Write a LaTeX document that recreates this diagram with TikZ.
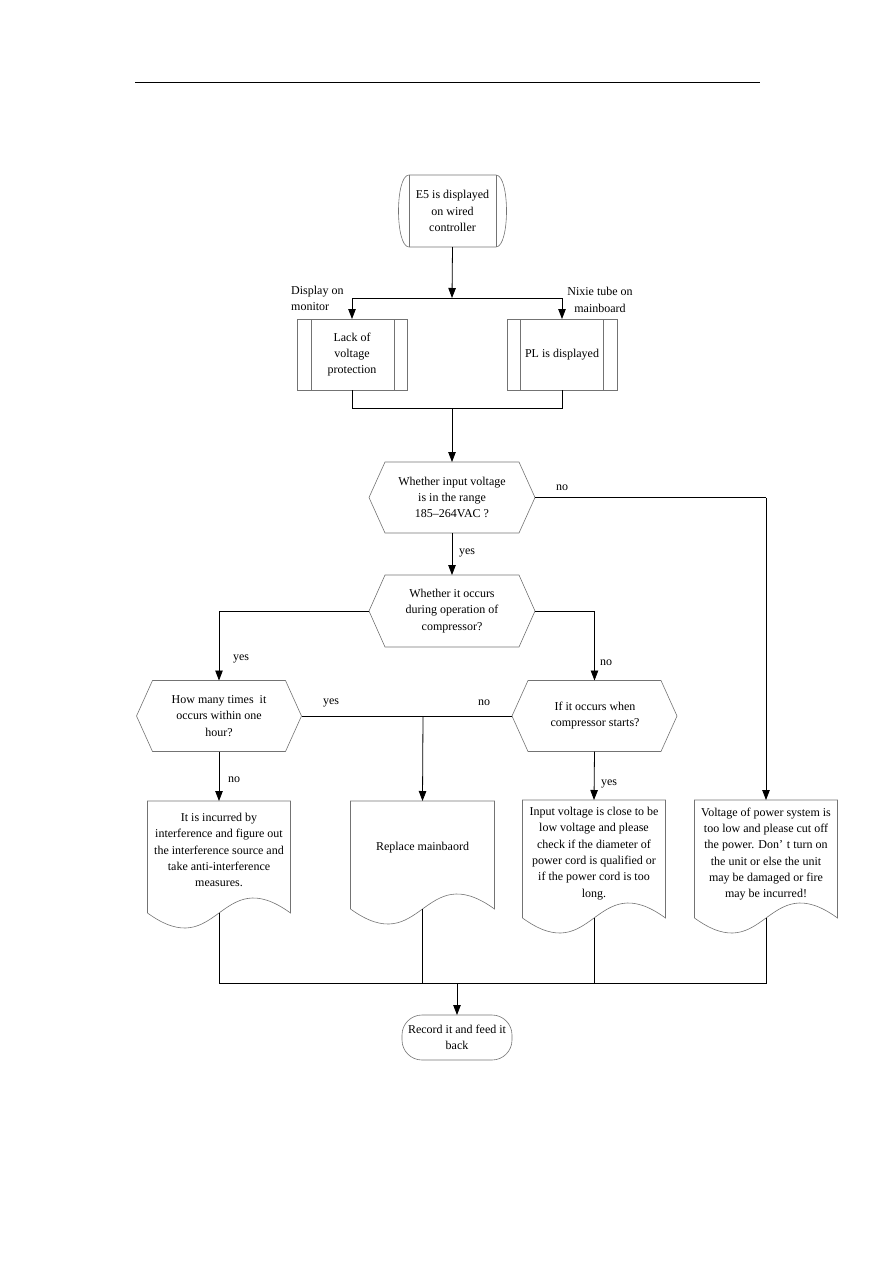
\documentclass[tikz,border=0pt]{standalone}
\usepackage{fontspec}
\setmainfont{Liberation Serif}
\usetikzlibrary{arrows.meta,calc}
\begin{document}
\begin{tikzpicture}[x=1pt,y=-1pt,
  txt/.style={font=\fontsize{12}{16.3}\selectfont, align=center, inner sep=0pt, text=black},
  lbl/.style={font=\fontsize{12}{16.3}\selectfont, inner sep=0pt, text=black},
  box/.style={draw=none, inner sep=0pt, outer sep=0pt},
  shp/.style={draw=black!55, line width=0.6pt},
  con/.style={draw=black, line width=0.8pt},
  arr/.style={con, -{Triangle[length=10pt,width=7.5pt]}}]
\useasboundingbox (0,0) rectangle (893,1263);
\draw[line width=0.8pt] (135,82) -- (760,82);

% start node
\node[box, minimum width=109pt, minimum height=72pt] (start) at (452.5,211) {};
\draw[shp] ([xshift=11pt]start.north west) -- ([xshift=-11pt]start.north east)
  .. controls ([xshift=3pt]start.north east) and ([xshift=3pt]start.south east) .. ([xshift=-11pt]start.south east)
  -- ([xshift=11pt]start.south west)
  .. controls ([xshift=-3pt]start.south west) and ([xshift=-3pt]start.north west) .. ([xshift=11pt]start.north west);
\draw[shp] ([xshift=11pt]start.north west) -- ([xshift=11pt]start.south west);
\draw[shp] ([xshift=-11pt]start.north east) -- ([xshift=-11pt]start.south east);
\node[txt] (startt) at (452.5,211) {E5 is displayed\\on wired\\controller};

% process boxes
\node[box, shp, minimum width=110pt, minimum height=71pt] (p1) at (352,354.5) {};
\draw[shp] ([xshift=14pt]p1.north west) -- ([xshift=14pt]p1.south west);
\draw[shp] ([xshift=-13pt]p1.north east) -- ([xshift=-13pt]p1.south east);
\node[txt] (p1t) at (352,354.5) {Lack of\\voltage\\protection};
\node[box, shp, minimum width=110pt, minimum height=71pt] (p2) at (562,354.5) {};
\draw[shp] ([xshift=13pt]p2.north west) -- ([xshift=13pt]p2.south west);
\draw[shp] ([xshift=-14pt]p2.north east) -- ([xshift=-14pt]p2.south east);
\node[txt] (p2t) at (562,354.5) {PL is displayed};

\node[lbl, align=left, anchor=north west] (lab1) at (291,286) {Display on\\monitor};
\node[lbl, align=center] (lab2) at (600,300) {Nixie tube on\\mainboard};

% decisions
\newcommand{\hexdraw}[1]{%
  \draw[shp] (#1.west) -- ([xshift=16pt]#1.north west) -- ([xshift=-16pt]#1.north east)
   -- (#1.east) -- ([xshift=-16pt]#1.south east) -- ([xshift=16pt]#1.south west) -- cycle;}
\node[box, minimum width=166pt, minimum height=71pt] (d1) at (452,497.5) {};
\hexdraw{d1}
\node[txt] (d1t) at (452,497.5) {Whether input voltage\\is in the range\\185--264VAC ?};
\node[box, minimum width=166pt, minimum height=72pt] (d2) at (452,611) {};
\hexdraw{d2}
\node[txt] (d2t) at (452,611) {Whether it occurs\\during operation of\\compressor?};
\node[box, minimum width=165pt, minimum height=71pt] (d3) at (219,716) {};
\hexdraw{d3}
\node[txt] (d3t) at (219,716) {How many times~ it\\occurs within one\\hour?};
\node[box, minimum width=165pt, minimum height=71pt] (d4) at (594.5,716) {};
\hexdraw{d4}
\node[txt] (d4t) at (595,715.5) {If it occurs when\\compressor starts?};

% documents
\newcommand{\docdraw}[1]{%
  \draw[shp] (#1.south west) -- (#1.north west) -- (#1.north east) -- (#1.south east)
   .. controls ([yshift=52pt]#1.south) and ([yshift=-52pt]#1.south) .. (#1.south west);}
\node[box, minimum width=143pt, minimum height=112pt] (doc1) at (219,857) {};
\docdraw{doc1}
\node[txt] (doc1t) at (219,850) {It is incurred by\\interference and figure out\\the interference source and\\take anti-interference\\measures.};
\node[box, minimum width=144pt, minimum height=108pt] (doc2) at (422.5,855) {};
\docdraw{doc2}
\node[txt] (doc2t) at (422.5,848) {Replace mainbaord};
\node[box, minimum width=143pt, minimum height=118pt] (doc3) at (594,859) {};
\docdraw{doc3}
\node[txt] (doc3t) at (594,853.5) {Input voltage is close to be\\low voltage and please\\check if the diameter of\\power cord is qualified or\\if the power cord is too\\long.};
\node[box, minimum width=143pt, minimum height=118pt] (doc4) at (766,859) {};
\docdraw{doc4}
\node[txt] (doc4t) at (766,854) {Voltage of power system is\\too low and please cut off\\the power. Don’\,\,t turn on\\the unit or else the unit\\may be damaged or fire\\may be incurred!};

% end
\node[box, draw=black!55, line width=0.6pt, rounded corners=20pt, minimum width=110pt, minimum height=45pt] (endn) at (457,1037.5) {};
\node[txt] (endt) at (457,1037.5) {Record it and feed it\\back};

% connectors
\coordinate (j1) at (452,298);
\coordinate (j2) at (452,408);
\coordinate (j3) at (423,716);
\coordinate (j4) at (457,983);
\coordinate (r1) at (766,497.5);
\draw[arr] (start.south) -- (j1);
\draw[con] (p1.north |- j1) -- (p2.north |- j1);
\draw[arr] (p1.north |- j1) -- (p1.north);
\draw[arr] (p2.north |- j1) -- (p2.north);
\draw[con] (p1.south) -- (p1.south |- j2) -- (p2.south |- j2) -- (p2.south);
\draw[arr] (j2) -- (d1.north);
\draw[con] (d1.east) -- (r1);
\draw[arr] (r1) -- (doc4.north);
\draw[arr] (d1.south) -- (d2.north);
\draw[arr] (d2.west) -| (d3.north);
\draw[arr] (d2.east) -| (d4.north);
\draw[con] (d3.east) -- (j3);
\draw[con] (d4.west) -- (j3);
\draw[arr] (j3) -- (doc2.north);
\draw[arr] (d3.south) -- (doc1.north);
\draw[arr] (d4.south) -- (doc3.north);
\draw[con] (doc1.south) -- (doc1.south |- j4) -- (doc4.south |- j4) -- (doc4.south);
\draw[con] (doc2.south) -- (doc2.south |- j4);
\draw[con] (doc3.south) -- (doc3.south |- j4);
\draw[arr] (j4) -- (endn.north);

% labels
\node[lbl] (l1) at (562,488) {no};
\node[lbl] (l2) at (467,553) {yes};
\node[lbl] (l3) at (241,659) {yes};
\node[lbl] (l4) at (606,663) {no};
\node[lbl] (l5) at (331,703) {yes};
\node[lbl] (l6) at (484,703) {no};
\node[lbl] (l7) at (234,780) {no};
\node[lbl] (l8) at (609,784) {yes};
\end{tikzpicture}
\end{document}
